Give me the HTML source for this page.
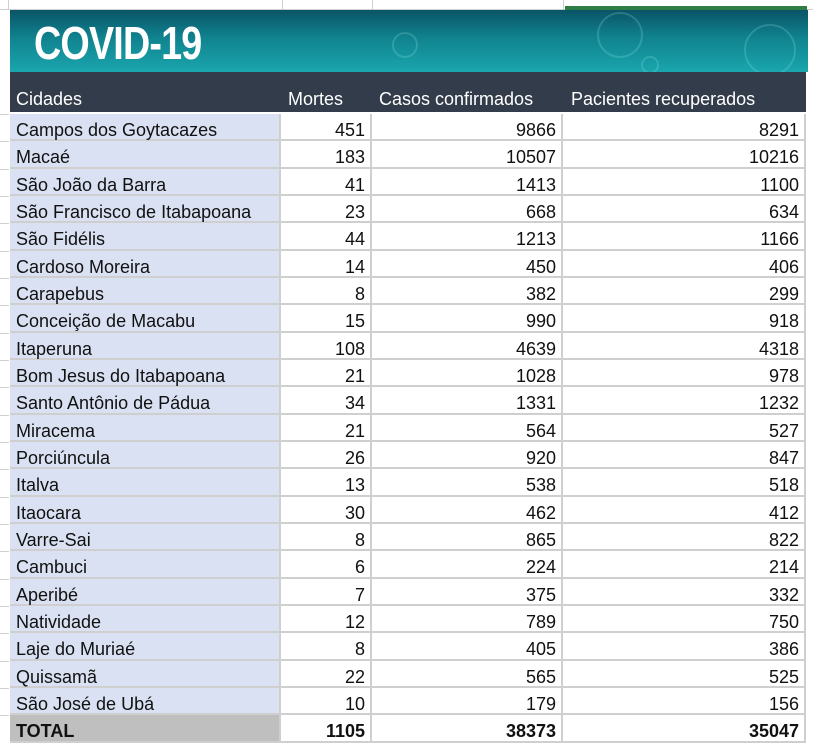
<!DOCTYPE html>
<html><head><meta charset="utf-8"><style>
*{margin:0;padding:0;box-sizing:border-box}
body{width:813px;height:751px;background:#fff;position:relative;overflow:hidden;font-family:"Liberation Sans",sans-serif}
.topgrid{position:absolute;left:0;top:0;width:813px;height:10px;border-bottom:1px solid #d0d0d0}
.vl{position:absolute;top:0;height:10px;width:1px;background:#d0d0d0}
.banner{position:absolute;left:10px;top:10px;width:798px;height:62px;background:linear-gradient(180deg,#0a5466 0%,#10838f 45%,#1aa6ad 100%);overflow:hidden}
.banner .t{position:absolute;left:24px;top:6px;color:#fff;font-weight:bold;font-size:46px;transform:scaleX(0.82);transform-origin:left;letter-spacing:-1px}
.hdr{position:absolute;left:10px;top:72px;width:796px;height:40px;background:#333c4a;color:#fff;font-size:18px}
.hdr span{position:absolute;top:17px}
.row{position:absolute;left:10px;width:796px;height:27.33px;font-size:18px;color:#111}
.row div{position:absolute;top:0;height:100%;border-right:2px solid #cfcfcf;border-bottom:2px solid #cfcfcf;padding-top:6px}
.c1{left:0;width:271px;background:#d9e1f2;padding-left:6px}
.c2{left:271px;width:91px;text-align:right;padding-right:5px}
.c3{left:362px;width:191px;text-align:right;padding-right:5px}
.c4{left:553px;width:243px;text-align:right;padding-right:5px}
.tot{font-weight:bold}
.tot .c1{background:#bfbfbf}
.lg{position:absolute;left:0;width:9px;height:1px;background:#d0d0d0}
</style></head><body>
<div class="topgrid"></div>
<div class="vl" style="left:8px"></div><div class="vl" style="left:282px"></div><div class="vl" style="left:372px"></div><div class="vl" style="left:563px"></div>
<div style="position:absolute;left:565px;top:6px;width:242px;height:4px;background:#2e7d45"></div>
<div class="banner"><div class="t">COVID-19</div>
<svg width="798" height="62" style="position:absolute;left:0;top:0" fill="none" stroke="rgba(160,240,240,0.2)" stroke-width="2">
<circle cx="395" cy="35" r="12"/><circle cx="610" cy="25" r="22"/><circle cx="760" cy="40" r="25"/><circle cx="640" cy="55" r="8"/>
</svg></div>
<div class="hdr"><span style="left:6px">Cidades</span><span style="left:278px">Mortes</span><span style="left:369px">Casos confirmados</span><span style="left:561px">Pacientes recuperados</span></div>
<div id="rows"></div>
<script>
const d=[["Campos dos Goytacazes",451,9866,8291],["Macaé",183,10507,10216],["São João da Barra",41,1413,1100],["São Francisco de Itabapoana",23,668,634],["São Fidélis",44,1213,1166],["Cardoso Moreira",14,450,406],["Carapebus",8,382,299],["Conceição de Macabu",15,990,918],["Itaperuna",108,4639,4318],["Bom Jesus do Itabapoana",21,1028,978],["Santo Antônio de Pádua",34,1331,1232],["Miracema",21,564,527],["Porciúncula",26,920,847],["Italva",13,538,518],["Itaocara",30,462,412],["Varre-Sai",8,865,822],["Cambuci",6,224,214],["Aperibé",7,375,332],["Natividade",12,789,750],["Laje do Muriaé",8,405,386],["Quissamã",22,565,525],["São José de Ubá",10,179,156],["TOTAL",1105,38373,35047]];
let h="";d.forEach((r,i)=>{const t=114+i*27.33;h+=`<div class="lg" style="top:${t}px"></div><div class="row${i==22?' tot':''}" style="top:${t}px"><div class="c1">${r[0]}</div><div class="c2">${r[1]}</div><div class="c3">${r[2]}</div><div class="c4">${r[3]}</div></div>`});
document.getElementById("rows").outerHTML=h;
</script>
</body></html>
